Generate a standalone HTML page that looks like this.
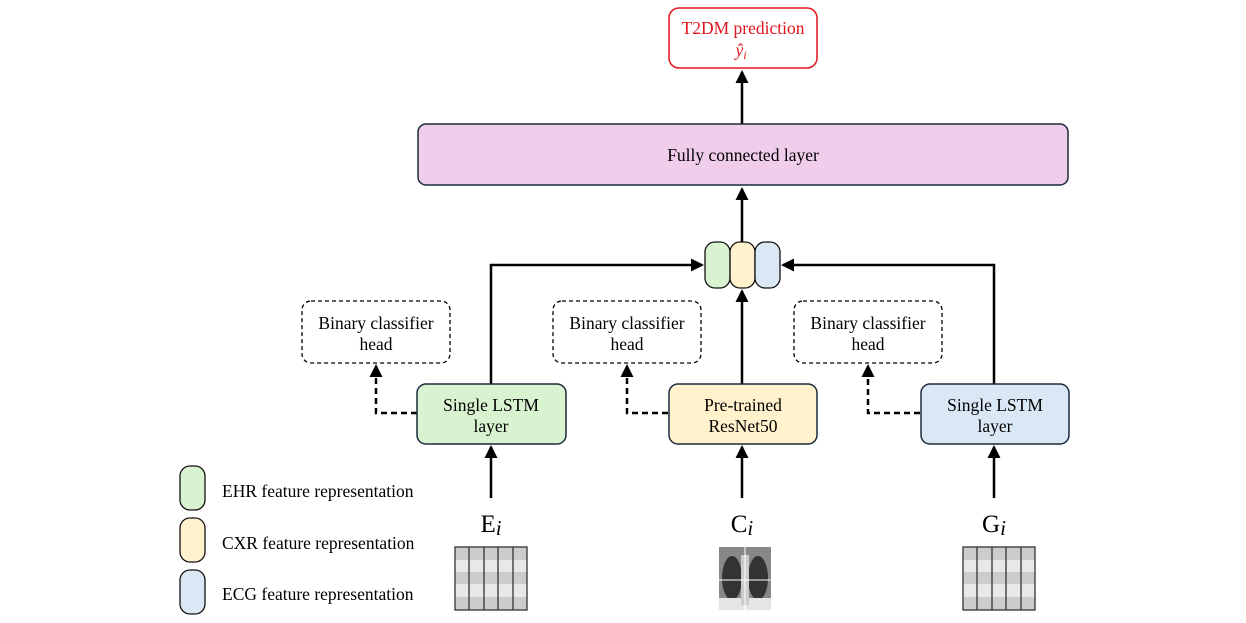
<!DOCTYPE html>
<html><head><meta charset="utf-8"><style>
html,body{margin:0;padding:0;background:#fff}
svg{display:block}
text{font-family:"Liberation Serif",serif;font-size:17.5px;fill:#000}
</style></head><body>
<svg width="1246" height="623" viewBox="0 0 1246 623" xmlns="http://www.w3.org/2000/svg">
<defs>
<marker id="a" markerWidth="13" markerHeight="13" refX="11" refY="6.5" orient="auto" markerUnits="userSpaceOnUse"><path d="M0,0 L13,6.5 L0,13 z" fill="#000"/></marker>
</defs>
<!-- T2DM -->
<rect x="669" y="8" width="148" height="60" rx="10" fill="#fff" stroke="#e0141c" stroke-width="1.5"/>
<text x="743" y="34" text-anchor="middle" style="fill:#e0141c">T2DM prediction</text>
<text x="741" y="56" text-anchor="middle" style="fill:#e0141c;font-style:italic">ŷ<tspan font-size="12" dy="3">i</tspan></text>
<line x1="742" y1="124" x2="742" y2="72" stroke="#000" stroke-width="2.5" marker-end="url(#a)"/>
<!-- FC -->
<rect x="418" y="124" width="650" height="61" rx="8" fill="#f1cdec" stroke="#1a2a3a" stroke-width="1.5"/>
<text x="743" y="161" text-anchor="middle">Fully connected layer</text>
<line x1="742" y1="242" x2="742" y2="189" stroke="#000" stroke-width="2.5" marker-end="url(#a)"/>
<!-- capsules -->
<rect x="705" y="242" width="25" height="46" rx="10" fill="#d9f2d0" stroke="#111" stroke-width="1.3"/>
<rect x="730" y="242" width="25" height="46" rx="10" fill="#fff2cc" stroke="#111" stroke-width="1.3"/>
<rect x="755" y="242" width="25" height="46" rx="10" fill="#dae8f5" stroke="#111" stroke-width="1.3"/>
<!-- connectors up -->
<polyline points="491,384 491,265 702,265" fill="none" stroke="#000" stroke-width="2.5" marker-end="url(#a)"/>
<polyline points="994,384 994,265 783,265" fill="none" stroke="#000" stroke-width="2.5" marker-end="url(#a)"/>
<line x1="742" y1="384" x2="742" y2="291" stroke="#000" stroke-width="2.5" marker-end="url(#a)"/>
<!-- dashed heads -->
<g fill="#fff" stroke="#000" stroke-width="1.3" stroke-dasharray="4,3">
<rect x="302" y="301" width="148" height="62" rx="9"/>
<rect x="553" y="301" width="148" height="62" rx="9"/>
<rect x="794" y="301" width="148" height="62" rx="9"/>
</g>
<text x="376" y="329" text-anchor="middle">Binary classifier</text><text x="376" y="350" text-anchor="middle">head</text>
<text x="627" y="329" text-anchor="middle">Binary classifier</text><text x="627" y="350" text-anchor="middle">head</text>
<text x="868" y="329" text-anchor="middle">Binary classifier</text><text x="868" y="350" text-anchor="middle">head</text>
<g fill="none" stroke="#000" stroke-width="2.5" stroke-dasharray="6,4">
<polyline points="417,413 376,413 376,366" marker-end="url(#a)"/>
<polyline points="668,413 627,413 627,366" marker-end="url(#a)"/>
<polyline points="920,413 868,413 868,366" marker-end="url(#a)"/>
</g>
<!-- encoders -->
<rect x="417" y="384" width="149" height="60" rx="9" fill="#d9f2d0" stroke="#1a2a3a" stroke-width="1.5"/>
<rect x="669" y="384" width="148" height="60" rx="9" fill="#fff2cc" stroke="#1a2a3a" stroke-width="1.5"/>
<rect x="921" y="384" width="148" height="60" rx="9" fill="#dae8f5" stroke="#1a2a3a" stroke-width="1.5"/>
<text x="491" y="411" text-anchor="middle">Single LSTM</text><text x="491" y="432" text-anchor="middle">layer</text>
<text x="743" y="411" text-anchor="middle">Pre-trained</text><text x="743" y="432" text-anchor="middle">ResNet50</text>
<text x="995" y="411" text-anchor="middle">Single LSTM</text><text x="995" y="432" text-anchor="middle">layer</text>
<line x1="491" y1="498" x2="491" y2="447" stroke="#000" stroke-width="2.5" marker-end="url(#a)"/>
<line x1="742" y1="498" x2="742" y2="447" stroke="#000" stroke-width="2.5" marker-end="url(#a)"/>
<line x1="994" y1="498" x2="994" y2="447" stroke="#000" stroke-width="2.5" marker-end="url(#a)"/>
<!-- inputs labels -->
<text x="491" y="532" text-anchor="middle" style="font-size:25px">E<tspan font-style="italic" font-size="21" dy="3">i</tspan></text>
<text x="742" y="532" text-anchor="middle" style="font-size:25px">C<tspan font-style="italic" font-size="21" dy="3">i</tspan></text>
<text x="994" y="532" text-anchor="middle" style="font-size:25px">G<tspan font-style="italic" font-size="21" dy="3">i</tspan></text>
<!-- grids -->
<g id="g1">
<rect x="455" y="547" width="72" height="63" fill="#e8e8e8"/>
<rect x="455" y="547" width="72" height="13" fill="#cccccc"/>
<rect x="455" y="572" width="72" height="12" fill="#cccccc"/>
<rect x="455" y="597" width="72" height="13" fill="#cccccc"/>
<g stroke="#333" stroke-width="1.3" fill="none"><rect x="455" y="547" width="72" height="63"/>
<line x1="469" y1="547" x2="469" y2="610"/><line x1="484" y1="547" x2="484" y2="610"/><line x1="498" y1="547" x2="498" y2="610"/><line x1="513" y1="547" x2="513" y2="610"/></g>
</g>
<use href="#g1" x="508"/>
<!-- xray -->
<rect x="719" y="547" width="52" height="63" fill="#888"/>
<ellipse cx="732" cy="578" rx="10" ry="22" fill="#333"/>
<ellipse cx="758" cy="578" rx="10" ry="22" fill="#333"/>
<rect x="719" y="598" width="52" height="12" fill="#e5e5e5"/>
<rect x="741" y="555" width="8" height="50" fill="#ccc"/>
<line x1="745" y1="547" x2="745" y2="610" stroke="#fff" stroke-width="1"/>
<line x1="719" y1="580" x2="771" y2="580" stroke="#fff" stroke-width="1"/>
<!-- legend -->
<rect x="180" y="466" width="25" height="44" rx="10" fill="#d9f2d0" stroke="#111" stroke-width="1.3"/>
<rect x="180" y="518" width="25" height="44" rx="10" fill="#fff2cc" stroke="#111" stroke-width="1.3"/>
<rect x="180" y="570" width="25" height="44" rx="10" fill="#dae8f5" stroke="#111" stroke-width="1.3"/>
<text x="222" y="497">EHR feature representation</text>
<text x="222" y="549">CXR feature representation</text>
<text x="222" y="600">ECG feature representation</text>
</svg>
</body></html>
